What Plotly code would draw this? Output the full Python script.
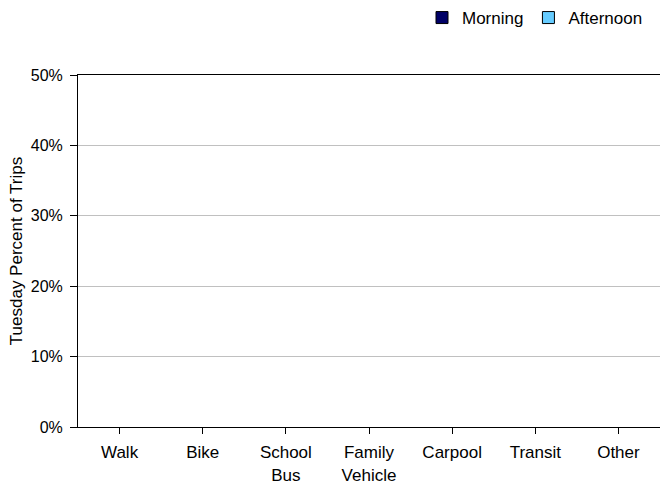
import plotly.graph_objects as go

categories = ["Walk", "Bike", "School<br>Bus", "Family<br>Vehicle", "Carpool", "Transit", "Other"]
# The reference shows no bars: no values are drawn for either series.
morning = [None, None, None, None, None, None, None]
afternoon = [None, None, None, None, None, None, None]
y_ticks = [0, 0.1, 0.2, 0.3, 0.4, 0.5]

FONT = "Liberation Sans, Arial, sans-serif"
FS = 17
TFS = 16

fig = go.Figure()
fig.add_trace(go.Bar(name="Morning", x=categories, y=morning,
                     marker=dict(color="#000066", line=dict(color="#000000", width=1))))
fig.add_trace(go.Bar(name="Afternoon", x=categories, y=afternoon,
                     marker=dict(color="#66CCFF", line=dict(color="#000000", width=1))))

fig.update_layout(
    width=660, height=488,
    margin=dict(l=78, r=0, t=75, b=61, autoexpand=False),
    paper_bgcolor="white", plot_bgcolor="white",
    font=dict(family=FONT, size=FS, color="#000000"),
    barmode="group",
    showlegend=True,
    legend=dict(orientation="h", x=1 - 12/660, xanchor="right", xref="container",
                yref="container", y=1 - 18/488, yanchor="middle",
                font=dict(size=FS), itemwidth=30, bgcolor="rgba(0,0,0,0)"),
    xaxis=dict(type="category", range=[-0.5, 6.5], showline=True, linecolor="#000000",
               linewidth=1, mirror=True, ticks="outside", ticklen=6, tickcolor="#000000",
               showgrid=False, ticklabelstandoff=4, tickfont=dict(size=FS),
               automargin=False, fixedrange=True),
    yaxis=dict(range=[0, 0.5], tickvals=y_ticks, tickformat=".0%", showline=True,
               linecolor="#000000", linewidth=1, ticks="outside", ticklen=7,
               tickcolor="#000000", showgrid=True, gridcolor="#c0c0c0", gridwidth=1,
               zeroline=False, tickfont=dict(size=TFS), ticklabelstandoff=4,
               automargin=False, fixedrange=True,
               title=dict(text="Tuesday Percent of Trips", font=dict(size=FS), standoff=3)),
)

fig.write_html("out.html", config={"displayModeBar": False},
               post_script="document.body.style.margin='0';document.body.style.overflow='hidden';")
